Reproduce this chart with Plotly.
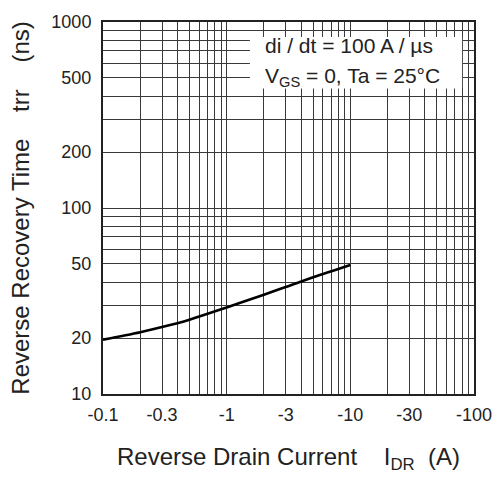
import plotly.graph_objects as go

# Data
current = [0.1, 0.2, 0.3, 0.5, 1, 2, 3, 5, 10]          # |I_DR| (A)
trr = [19.6, 21.5, 22.9, 25.1, 29.2, 34.2, 37.6, 42.4, 49.4]  # ns

x_tickvals = [0.1, 0.3, 1, 3, 10, 30, 100]
x_ticktext = ["-0.1", "-0.3", "-1", "-3", "-10", "-30", "-100"]
y_tickvals = [10, 20, 50, 100, 200, 500, 1000]
y_ticktext = ["10", "20", "50", "100", "200", "500", "1000"]

x_grid = [m * 10 ** e for e in (-1, 0, 1) for m in range(1, 10)] + [100]
y_grid = [m * 10 ** e for e in (1, 2) for m in range(1, 10)] + [1000]

condition_lines = ["di / dt = 100 A / µs", "V<sub>GS</sub> = 0, Ta = 25°C"]

FONT = "Liberation Sans, Arial, sans-serif"
GRID = "#3a3a3a"
TXT = "#222"
SP = "&nbsp;"

fig = go.Figure()
fig.add_trace(go.Scatter(x=current, y=trr, mode="lines",
                         line=dict(color="black", width=2.6, shape="spline", smoothing=1.0),
                         showlegend=False, hoverinfo="skip"))

fig.update_layout(
    width=504, height=481,
    margin=dict(l=103, r=22, t=15, b=87),
    paper_bgcolor="white", plot_bgcolor="white",
    font=dict(family=FONT, size=18, color=TXT),
    xaxis=dict(type="log", range=[-1, 2],
               tickmode="array", tickvals=x_tickvals, ticktext=x_ticktext,
               tickfont=dict(size=18),
               showgrid=False, zeroline=False,
               ticks="outside", ticklen=3, tickcolor="rgba(0,0,0,0)",
               showline=True, linecolor="#222", linewidth=2, mirror=True,
               minor=dict(tickmode="array", tickvals=x_grid, showgrid=True,
                          gridcolor=GRID, gridwidth=1, ticks=""),
               title=dict(text="Reverse Drain Current" + SP * 4 + "I<sub>DR</sub>" + SP * 2 + "(A)",
                          font=dict(size=24), standoff=25)),
    yaxis=dict(type="log", range=[1, 3],
               tickmode="array", tickvals=y_tickvals, ticktext=y_ticktext,
               tickfont=dict(size=18),
               showgrid=False, zeroline=False,
               ticks="outside", ticklen=6, tickcolor="rgba(0,0,0,0)",
               showline=True, linecolor="#222", linewidth=2, mirror=True,
               minor=dict(tickmode="array", tickvals=y_grid, showgrid=True,
                          gridcolor=GRID, gridwidth=1, ticks=""),
               title=dict(text="Reverse Recovery Time" + SP * 4 + "trr" + SP * 4 + "(ns)",
                          font=dict(size=24), standoff=15)),
    shapes=[dict(type="rect", xref="paper", yref="paper",
                 x0=0.396, x1=0.968, y0=0.821, y1=0.960,
                 fillcolor="white", line=dict(width=0), layer="above")],
    annotations=[
        dict(xref="paper", yref="paper", x=0.43, y=0.936,
             xanchor="left", yanchor="middle", align="left", showarrow=False,
             text=condition_lines[0], font=dict(family=FONT, size=21, color=TXT)),
        dict(xref="paper", yref="paper", x=0.43, y=0.853,
             xanchor="left", yanchor="middle", align="left", showarrow=False,
             text=condition_lines[1], font=dict(family=FONT, size=21, color=TXT)),
    ],
)

fig.write_html("out.html")
